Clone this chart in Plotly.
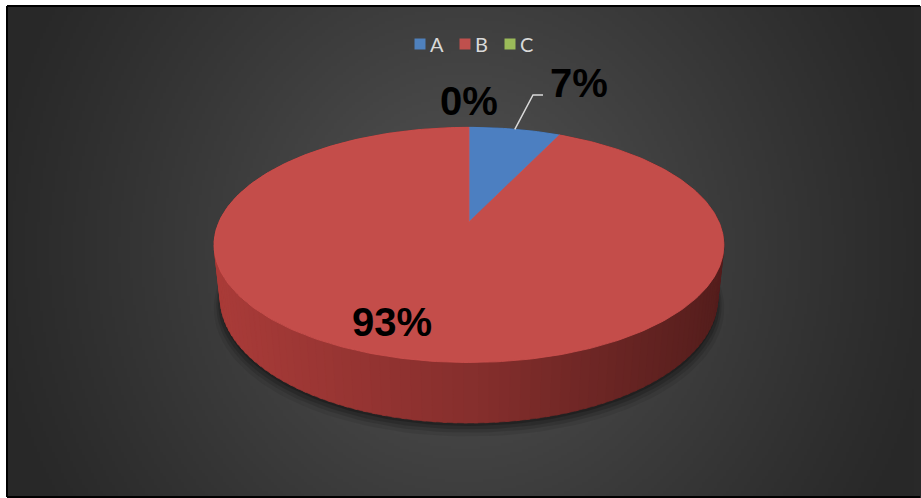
import numpy as np
import plotly.graph_objects as go

# ---- data -------------------------------------------------------------
categories = ["A", "B", "C"]
values = [7, 93, 0]
slice_colors = ["#4f81bd", "#c0504d", "#9bbb59"]

# ---- canvas / view settings ------------------------------------------
W, H = 921, 498
CX, CY = 469, 222          # screen position of the pie centre
F_R = 250.0                # projected radius at the disc's horizontal diameter
R_REL = 0.2186             # disc radius relative to camera distance
BETA = np.radians(63.1)    # tilt of the disc
DEPTH = 0.0524             # thickness of the disc (same units as R_REL)
FOCAL = F_R / R_REL
COSB, SINB = np.cos(BETA), np.sin(BETA)

FRAME_LEFT, FRAME_TOP, FRAME_BOTTOM = 7, 6, 497
EDGE_GREY = "rgb(41,41,41)"

LABEL_FONT = dict(family="Liberation Sans, Arial, sans-serif", size=40, color="#000000")
LABEL_POS = {"A": (579, 83), "B": (392, 322), "C": (469, 101)}

LEGEND_X0, LEGEND_PITCH, LEGEND_Y = 420, 45, 44
LEGEND_FONT = dict(family="Lato, Carlito, sans-serif", size=20, color="#d9d9d9")


def hex_rgb(h):
    h = h.lstrip("#")
    return np.array([int(h[i:i + 2], 16) for i in (0, 2, 4)], dtype=float)


def rgb(c, a=None):
    c = np.clip(np.round(c), 0, 255).astype(int)
    if a is None:
        return f"rgb({c[0]},{c[1]},{c[2]})"
    return f"rgba({c[0]},{c[1]},{c[2]},{a})"


def project(theta_deg, rad=1.0, depth=0.0):
    """Perspective projection of a point on the tilted disc.
    theta is measured clockwise from 12 o'clock."""
    t = np.radians(np.asarray(theta_deg, dtype=float))
    x = R_REL * rad * np.sin(t)
    y0 = R_REL * rad * np.cos(t)
    yc = y0 * COSB - depth * SINB
    zc = -y0 * SINB - depth * COSB
    s = FOCAL / (1.0 - zc)
    return CX + x * s, CY - yc * s, zc


fig = go.Figure()

# ---- background gradient ---------------------------------------------
ex = np.linspace(FRAME_LEFT, W - 6, 304)
ey = np.linspace(FRAME_TOP, FRAME_BOTTOM, 165)
mx = (ex[:-1] + ex[1:]) / 2
my = (ey[:-1] + ey[1:]) / 2
GX, GY = np.meshgrid(mx, my)
dx = (GX - 465) / 475.0
dy = (GY - 250) / 300.0
glow = np.clip(1 - np.sqrt(dx ** 2 + 0.35 * dy ** 2), 0, 1) ** 1.1
fig.add_trace(go.Heatmap(
    x=ex, y=ey, z=glow, zmin=0, zmax=1, zsmooth=False,
    colorscale=[[0, "rgb(40,40,40)"], [1, "rgb(84,84,84)"]],
    showscale=False, hoverinfo="skip",
))

# ---- soft shadow under the pie ---------------------------------------
ring = np.linspace(0, 360, 181)
for grow, drop, alpha in [(1.025, 9, 0.08), (1.015, 7, 0.12), (1.008, 5, 0.16), (1.0, 3, 0.22)]:
    sx, sy, _ = project(ring, rad=grow, depth=DEPTH)
    fig.add_trace(go.Scatter(
        x=sx, y=sy + drop, mode="lines", fill="toself",
        fillcolor=f"rgba(0,0,0,{alpha})", line=dict(width=0),
        hoverinfo="skip", showlegend=False,
    ))

# ---- slice angles ----------------------------------------------------
total = float(sum(values))
fracs = [v / total for v in values]
starts = np.concatenate([[0.0], np.cumsum(fracs)[:-1]]) * 360
ends = np.cumsum(fracs) * 360

# ---- outer side wall (strips shaded left -> right) -------------------
strips = []
for i, (a0, a1) in enumerate(zip(starts, ends)):
    if a1 - a0 <= 0:
        continue
    n = max(2, int(np.ceil((a1 - a0) / 2.0)))
    edges = np.linspace(a0, a1, n + 1)
    base = hex_rgb(slice_colors[i])
    for t0, t1 in zip(edges[:-1], edges[1:]):
        pad = 0.35
        ts = np.linspace(t0 - pad, t1 + pad, 4)
        tx, ty, tz = project(ts, depth=0.0)
        bx, by, _ = project(ts[::-1], depth=DEPTH)
        mid_x = tx.mean()
        k = np.interp(mid_x, [CX - F_R, CX, CX + F_R], [0.88, 0.70, 0.44])
        sat = 0.72 + 0.28 * base / base.max()
        col = base * k * sat
        strips.append((tz.mean(), np.r_[tx, bx, tx[0]], np.r_[ty, by, ty[0]], rgb(col)))

strips.sort(key=lambda s: s[0])
for _, xs, ys, col in strips:
    fig.add_trace(go.Scatter(
        x=xs, y=ys, mode="lines", fill="toself", fillcolor=col,
        line=dict(width=0.6, color=col), hoverinfo="skip", showlegend=False,
    ))

# ---- top faces -------------------------------------------------------
for i, (a0, a1) in enumerate(zip(starts, ends)):
    if a1 - a0 <= 0:
        continue
    ts = np.linspace(a0, a1, max(3, int((a1 - a0) / 1.0)))
    ax, ay, _ = project(ts)
    base = hex_rgb(slice_colors[i])
    sat = 0.9 + 0.1 * base / base.max()
    top = np.minimum(base * sat * 1.02, 255)
    fig.add_trace(go.Scatter(
        x=np.r_[CX, ax, CX], y=np.r_[CY, ay, CY], mode="lines", fill="toself",
        fillcolor=rgb(top), line=dict(width=0.8, color=rgb(np.minimum(top * 1.05, 255))),
        hoverinfo="skip", showlegend=False,
    ))

annotations = []

# ---- legend (swatch + name per category) -----------------------------
leg_x = [LEGEND_X0 + i * LEGEND_PITCH for i in range(len(categories))]
fig.add_trace(go.Scatter(
    x=leg_x, y=[LEGEND_Y] * len(categories), mode="markers",
    marker=dict(symbol="square", size=11, color=slice_colors, line=dict(width=0)),
    hoverinfo="skip", showlegend=False,
))
for name, lxp in zip(categories, leg_x):
    annotations.append(dict(x=lxp + 8, y=LEGEND_Y, xref="x", yref="y", text=name,
                            showarrow=False, font=LEGEND_FONT,
                            xanchor="left", yanchor="middle"))

# ---- data labels -----------------------------------------------------
for i, name in enumerate(categories):
    pct = f"<b>{round(fracs[i] * 100)}%</b>"
    lx, ly = LABEL_POS[name]
    annotations.append(dict(x=lx, y=ly, xref="x", yref="y", text=pct, showarrow=False,
                            font=LABEL_FONT, xanchor="center", yanchor="middle"))

shapes = []

# white margin strips outside the chart frame
shapes.append(dict(type="rect", xref="x", yref="y", x0=0, x1=W, y0=0, y1=FRAME_TOP,
                   fillcolor="#ffffff", line=dict(width=0), layer="below"))
shapes.append(dict(type="rect", xref="x", yref="y", x0=0, x1=FRAME_LEFT, y0=0, y1=H,
                   fillcolor="#ffffff", line=dict(width=0), layer="below"))

# leader line for the small slice
mid_a = (starts[0] + ends[0]) / 2
px0, py0, _ = project(mid_a)
lx, ly = LABEL_POS["A"]
elbow_x, elbow_y = lx - 46, ly + 12
shapes.append(dict(type="path", xref="x", yref="y",
                   path=f"M{px0:.1f},{py0:.1f} L{elbow_x:.1f},{elbow_y:.1f} L{elbow_x + 10:.1f},{elbow_y:.1f}",
                   line=dict(color="#d9d9d9", width=1.5)))

# chart frame (top, left and bottom edges; the right edge is open)
frame_line = dict(color="#000000", width=2)
shapes.append(dict(type="line", xref="x", yref="y", x0=FRAME_LEFT, x1=W - 1, y0=FRAME_TOP, y1=FRAME_TOP, line=frame_line))
shapes.append(dict(type="line", xref="x", yref="y", x0=FRAME_LEFT, x1=W - 1, y0=FRAME_BOTTOM, y1=FRAME_BOTTOM, line=frame_line))
shapes.append(dict(type="line", xref="x", yref="y", x0=FRAME_LEFT, x1=FRAME_LEFT, y0=FRAME_TOP, y1=FRAME_BOTTOM, line=frame_line))

# dark fill along the open right edge, drawn above everything else
shapes.append(dict(type="rect", xref="x", yref="y", x0=W - 7, x1=W + 3,
                   y0=FRAME_TOP + 1, y1=FRAME_BOTTOM - 1,
                   fillcolor=EDGE_GREY, line=dict(width=0), layer="above"))

fig.update_layout(
    width=W, height=H,
    margin=dict(l=0, r=0, t=0, b=0),
    paper_bgcolor="#ffffff", plot_bgcolor=EDGE_GREY,
    xaxis=dict(range=[0, W], visible=False, fixedrange=True),
    yaxis=dict(range=[H, 0], visible=False, fixedrange=True),
    showlegend=False,
    annotations=annotations,
    shapes=shapes,
)

fig.write_html("out.html")
